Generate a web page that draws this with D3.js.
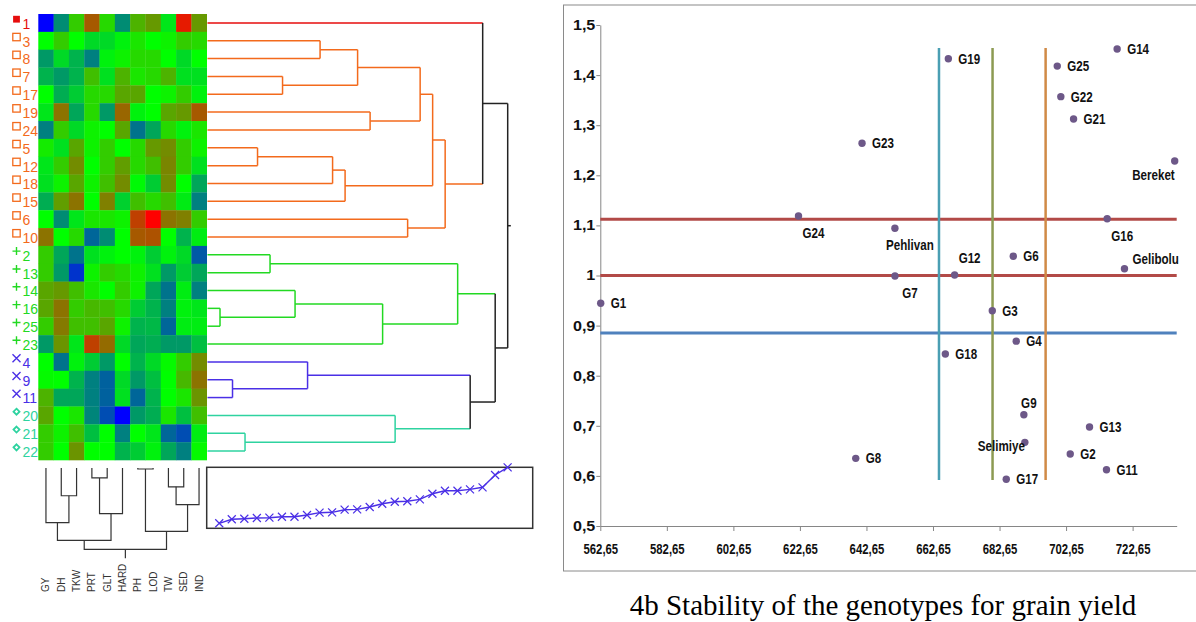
<!DOCTYPE html>
<html>
<head>
<meta charset="utf-8">
<script src="https://cdn.jsdelivr.net/npm/d3@7"></script>
<style>
  html, body { margin: 0; padding: 0; background: #fff; }
  svg { display: block; }
</style>
</head>
<body>
<svg id="fig" width="1196" height="622"></svg>
<script>
// ---- heatmap + clustering data ----
const rowLabels = ['1','3','8','7','17','19','24','5','12','18','15','6','10','2','13','14','16','25','23','4','9','11','20','21','22'];
const rowGroups = ['red','orange','orange','orange','orange','orange','orange','orange','orange','orange','orange','orange','orange',
                   'green','green','green','green','green','green','blue','blue','blue','teal','teal','teal'];
const colLabels = ['GY','DH','TKW','PRT','GLT','HARD','PH','LOD','TW','SED','IND'];

// standardised values, -1 (blue) .. 0 (green) .. 1 (red)
const heatValues = [
  [-1, -0.45, 0.2, 0.65, 0.15, -0.45, 0.3, 0.4, -0.1, 0.9, 0.4],
  [0, 0.2, 0, -0.15, -0.15, -0.05, 0.1, 0, 0.05, 0.2, 0.15],
  [-0.4, -0.15, -0.3, -0.5, -0.05, 0.05, 0.15, 0.15, 0, -0.15, 0],
  [-0.3, -0.4, -0.3, 0.25, -0.12, 0.3, 0.1, 0.15, 0.3, -0.12, -0.12],
  [0, -0.32, -0.2, 0.15, 0.15, 0.35, 0.35, 0, 0.05, 0.2, -0.05],
  [-0.1, 0.55, -0.35, 0.15, -0.4, 0.6, -0.05, 0, 0.35, 0.4, 0.65],
  [-0.5, 0.2, -0.15, 0.05, 0, 0.35, -0.55, -0.35, 0.15, -0.05, 0.1],
  [0.08, -0.12, 0.35, 0.05, 0.2, 0, 0.15, 0.4, 0.45, 0.2, 0.05],
  [-0.1, 0.2, 0.45, 0, 0.2, 0.38, 0.15, 0.25, 0.48, 0.2, -0.12],
  [-0.12, 0.05, 0.35, 0.05, 0.25, 0.45, -0.02, -0.2, 0.45, 0, -0.35],
  [-0.32, 0.38, 0.55, 0, 0.5, -0.18, 0.25, 0.15, 0.25, -0.08, -0.5],
  [0, -0.45, -0.1, 0.1, 0.1, 0.05, 0.75, 1, 0.55, 0.5, 0.2],
  [0.55, 0, 0.15, -0.6, -0.45, 0, 0.65, 0.68, 0, -0.3, -0.07],
  [0.2, -0.35, -0.55, -0.12, -0.05, 0, -0.05, -0.2, -0.05, -0.15, -0.65],
  [0.2, -0.4, -0.8, 0.05, 0.2, 0.15, 0.05, -0.12, -0.4, -0.2, -0.35],
  [0.35, 0.4, 0.25, 0.1, 0, 0.2, 0.05, -0.35, -0.55, -0.07, -0.5],
  [0.35, 0.55, 0.2, 0.28, 0.25, 0.15, -0.2, -0.3, -0.5, -0.05, -0.1],
  [0.2, 0.52, 0.25, 0.25, 0.35, 0.05, -0.3, -0.28, -0.6, -0.07, -0.07],
  [-0.4, 0.42, -0.1, 0.75, 0.58, -0.15, -0.35, -0.32, -0.4, -0.4, -0.25],
  [0, -0.55, -0.05, -0.2, -0.4, 0, -0.3, -0.15, 0.02, 0.2, 0.45],
  [0.02, 0, -0.3, -0.5, -0.62, -0.15, -0.4, -0.25, 0, 0.28, 0.55],
  [0.3, -0.35, -0.35, -0.5, -0.62, -0.12, -0.6, -0.3, 0, 0.1, 0.42],
  [0.35, 0, 0.1, -0.48, -0.7, -1, -0.4, -0.32, 0.1, -0.25, 0.25],
  [0.2, 0.05, 0.25, -0.25, 0, -0.5, 0, -0.1, -0.6, -0.7, -0.07],
  [0.2, 0, 0.42, 0, 0, -0.3, -0.2, -0.05, -0.35, -0.5, 0.02]
];

// row linkage in merge order (mN = result of merge N); drawn by merge rank
const rowMerges = [
  ['16','25'], ['9','11'], ['21','22'], ['5','12'], ['2','13'], ['7','17'],
  ['14','m1'], ['4','m2'], ['3','8'], ['m4','18'], ['m10','15'], ['m9','m6'],
  ['19','24'], ['m7','23'], ['20','m3'], ['6','10'], ['m12','m13'], ['m17','m11'],
  ['m18','m16'], ['m5','m14'], ['m8','m15'], ['1','m19'], ['m20','m21'], ['m22','m23']
];
// sorted linkage distances (inset)
const mergeDistances = [0.82, 1.48, 1.57, 1.69, 1.74, 1.90, 1.90, 2.18, 2.56, 2.62, 3.05, 3.11,
                        3.49, 4.03, 4.36, 4.43, 4.75, 5.67, 6.16, 6.16, 6.39, 6.72, 8.74, 10.0];
// column linkage in merge order (cN)
const colMerges = [
  ['PH','LOD'], ['PRT','GLT'], ['TW','SED'], ['DH','TKW'], ['c3','IND'],
  ['c2','HARD'], ['GY','c4'], ['c1','c5'], ['c7','c6'], ['c9','c8']
];

// ---- stability scatter data ----
const genotypes = ['G1','G8','G24','G23','G19','G14','G25','G22','G21','Bereket','G16','Pehlivan','G6',
                   'G12','G7','Gelibolu','G3','G4','G18','G9','G13','Selimiye','G2','G11','G17'];
const yieldMeans = [562.77, 639.43, 622.22, 641.32, 667.26, 718.0, 700.0, 701.07, 704.9, 735.3, 715.0, 651.2, 686.78,
                    669.15, 651.22, 720.2, 680.47, 687.67, 666.36, 689.96, 709.7, 690.26, 703.9, 714.8, 684.67];
const regCoef = [0.9445, 0.635, 1.1188, 1.2639, 1.4327, 1.452, 1.418, 1.357, 1.3124, 1.2285, 1.1134, 1.0942, 1.0383,
                 1.001, 0.999, 1.0136, 0.9297, 0.869, 0.8433, 0.722, 0.6976, 0.667, 0.6437, 0.6124, 0.5932];
const labelPlaces = ['right','right','below','right','right','right','right','right','right','belowLeft','below','below','right',
                     'above','below','aboveRight','right','right','right','top','right','left','right','right','right'];
const hLineValues = [1.1125, 1.0, 0.885];
const vLineValues = [664.45, 680.55, 696.5];
const vLineSpan = [0.592, 1.454];
const xTickValues = [562.65, 582.65, 602.65, 622.65, 642.65, 662.65, 682.65, 702.65, 722.65];
const yTickValues = [0.5, 0.6, 0.7, 0.8, 0.9, 1, 1.1, 1.2, 1.3, 1.4, 1.5];

// ---------------------------------------------------------------
const svg = d3.select('#fig');
const groupColor = { red: '#e60d0d', orange: '#f36a1c', green: '#22d922', blue: '#4a2fe6', teal: '#2ed3a0', mix: '#222' };

// squeeze text horizontally (the original uses a narrow Calibri-like face)
function squeeze(sel, k) {
  sel.each(function () {
    const w = this.getComputedTextLength();
    d3.select(this).attr('textLength', w * k).attr('lengthAdjust', 'spacingAndGlyphs');
  });
}

// Heatmap
const yRow = d3.scaleBand().domain(rowLabels).range([14, 460]);
const xCol = d3.scaleBand().domain(colLabels).range([38.3, 206.7]);
const heatColor = d3.scaleLinear().domain([-1, 0, 1]).range(['#0000ff', '#00ff00', '#ff0000']);

const heat = svg.append('g').attr('class', 'heatmap');
rowLabels.forEach((r, i) => {
  heat.selectAll(null)
    .data(heatValues[i])
    .enter().append('rect')
    .attr('x', (d, j) => xCol(colLabels[j]))
    .attr('y', yRow(r))
    .attr('width', xCol.bandwidth() + 0.3)
    .attr('height', yRow.bandwidth() + 0.3)
    .attr('fill', d => heatColor(d));
});

// Row labels with group markers
const rowLab = svg.append('g').attr('class', 'row-labels');
rowLabels.forEach((r, i) => {
  const g = rowGroups[i];
  const c = groupColor[g];
  const top = yRow(r);
  const mx = 16.5, my = top + 5.2;
  if (g === 'red') {
    rowLab.append('rect').attr('x', mx - 3.4).attr('y', my - 3.4).attr('width', 6.8).attr('height', 6.8).attr('fill', c);
  } else if (g === 'orange') {
    rowLab.append('rect').attr('x', mx - 3.7).attr('y', my - 3.7).attr('width', 7.4).attr('height', 7.4)
      .attr('fill', 'none').attr('stroke', c).attr('stroke-width', 1.3);
  } else if (g === 'green') {
    rowLab.append('path').attr('d', `M${mx - 4},${my}H${mx + 4}M${mx},${my - 4}V${my + 4}`)
      .attr('stroke', c).attr('stroke-width', 1.4);
  } else if (g === 'blue') {
    rowLab.append('path').attr('d', `M${mx - 4},${my - 4}L${mx + 4},${my + 4}M${mx - 4},${my + 4}L${mx + 4},${my - 4}`)
      .attr('stroke', c).attr('stroke-width', 1.4);
  } else {
    rowLab.append('path').attr('d', `M${mx},${my - 3}L${mx + 3},${my}L${mx},${my + 3}L${mx - 3},${my}Z`)
      .attr('fill', 'none').attr('stroke', c).attr('stroke-width', 1.8);
  }
  rowLab.append('text')
    .attr('x', 22.5).attr('y', top + 14.8)
    .style('font-family', '"Liberation Sans", Arial, sans-serif')
    .style('font-size', '14px')
    .style('fill', c)
    .text(r);
});

// Row dendrogram (ranked merge heights)
const xRank = d3.scaleLinear().domain([0, 24]).range([207.5, 507.7]);
const rowNodes = {};
rowLabels.forEach((r, i) => { rowNodes[r] = { rank: 0, y: yRow(r) + yRow.bandwidth() / 2, group: rowGroups[i] }; });
const dendro = svg.append('g').attr('class', 'row-dendrogram').attr('fill', 'none').attr('stroke-width', 1.5);
rowMerges.forEach((m, i) => {
  const a = rowNodes[m[0]], b = rowNodes[m[1]];
  const node = { rank: i + 1, y: (a.y + b.y) / 2, group: a.group === b.group ? a.group : 'mix' };
  rowNodes['m' + (i + 1)] = node;
  [a, b].forEach(ch => {
    dendro.append('path')
      .attr('d', `M${xRank(ch.rank)},${ch.y}H${xRank(node.rank)}`)
      .attr('stroke', groupColor[ch.group]);
  });
  dendro.append('path')
    .attr('d', `M${xRank(node.rank)},${a.y}V${b.y}`)
    .attr('stroke', groupColor[node.group]);
});
const rowRoot = rowNodes['m24'];
dendro.append('path').attr('d', `M${xRank(24)},${rowRoot.y}H${xRank(24.25)}`).attr('stroke', '#222');

// Column dendrogram
const yColRank = d3.scaleLinear().domain([1, 10]).range([469, 549.3]);
const colNodes = {};
colLabels.forEach(c => { colNodes[c] = { x: xCol(c) + xCol.bandwidth() / 2, y: 468 }; });
const cdend = svg.append('g').attr('class', 'col-dendrogram').attr('fill', 'none').attr('stroke', '#333').attr('stroke-width', 1.2);
colMerges.forEach((m, i) => {
  const a = colNodes[m[0]], b = colNodes[m[1]];
  const yy = yColRank(i + 1);
  const node = { x: (a.x + b.x) / 2, y: yy };
  colNodes['c' + (i + 1)] = node;
  cdend.append('path').attr('d', `M${a.x},${a.y}V${yy}H${b.x}V${b.y}`);
});
cdend.append('path').attr('d', `M${colNodes['c10'].x},${yColRank(10)}V${yColRank(11)}`);

// Column labels
svg.append('g').attr('class', 'col-labels')
  .selectAll('text').data(colLabels).enter().append('text')
  .attr('transform', d => `translate(${xCol(d) + xCol.bandwidth() / 2 + 3.5},592) rotate(-90)`)
  .style('font-family', '"Liberation Sans", Arial, sans-serif')
  .style('font-size', '10px')
  .style('fill', '#333')
  .text(d => d);

// Inset: sorted linkage distances
const xIn = d3.scaleLinear().domain([0, 26]).range([206.7, 532.7]);
const yIn = d3.scaleLinear().domain([0, 10]).range([528.3, 467.3]);
const inset = svg.append('g').attr('class', 'inset');
inset.append('rect')
  .attr('x', xIn(0)).attr('y', yIn(10))
  .attr('width', xIn(26) - xIn(0)).attr('height', yIn(0) - yIn(10))
  .attr('fill', 'none').attr('stroke', '#333').attr('stroke-width', 1.5);
const inPts = mergeDistances.map((d, i) => [xIn(i + 1), yIn(d)]);
inset.append('path').attr('d', d3.line()(inPts))
  .attr('fill', 'none').attr('stroke', '#4a2fe6').attr('stroke-width', 1.4);
inset.selectAll('.xm').data(inPts).enter().append('path')
  .attr('class', 'xm')
  .attr('d', p => `M${p[0] - 4},${p[1] - 4}L${p[0] + 4},${p[1] + 4}M${p[0] - 4},${p[1] + 4}L${p[0] + 4},${p[1] - 4}`)
  .attr('stroke', '#4a2fe6').attr('stroke-width', 1.2);

// ---------------------------------------------------------------
// Stability scatter
const sc = svg.append('g').attr('class', 'stability');
sc.append('rect')
  .attr('x', 563.5).attr('y', 5).attr('width', 640).attr('height', 566)
  .attr('fill', '#fff').attr('stroke', '#8a8a8a').attr('stroke-width', 1);

const xS = d3.scaleLinear().domain([562.65, 735.9]).range([600.3, 1176.7]);
const yS = d3.scaleLinear().domain([0.5, 1.5]).range([526, 25]);
const tickFont = '"Liberation Sans", Arial, sans-serif';

const xAxis = sc.append('g').attr('transform', `translate(0,${yS(0.5)})`)
  .call(d3.axisBottom(xS).tickValues(xTickValues).tickSize(5).tickSizeOuter(0).tickPadding(13)
    .tickFormat(d => d.toFixed(2).replace('.', ',')));
const yAxis = sc.append('g').attr('transform', `translate(${xS(562.65)},0)`)
  .call(d3.axisLeft(yS).tickValues(yTickValues).tickSize(4).tickSizeOuter(0).tickPadding(1)
    .tickFormat(d => String(d).replace('.', ',')));
[xAxis, yAxis].forEach(ax => {
  ax.select('.domain').attr('stroke', '#868686');
  ax.selectAll('.tick line').attr('stroke', '#868686');
  ax.selectAll('.tick text')
    .style('font-family', tickFont).style('font-weight', 'bold')
    .style('font-size', '14px').style('fill', '#111');
});
squeeze(xAxis.selectAll('.tick text'), 0.81);
squeeze(yAxis.selectAll('.tick text'), 1.15);

// reference lines
const hColors = ['#b24a47', '#b24a47', '#4f81bd'];
sc.selectAll('.hline').data(hLineValues).enter().append('line')
  .attr('class', 'hline')
  .attr('x1', xS(562.65)).attr('x2', xS(735.9))
  .attr('y1', d => yS(d)).attr('y2', d => yS(d))
  .attr('stroke', (d, i) => hColors[i]).attr('stroke-width', 3);
const vColors = ['#4a9fb3', '#8c9a52', '#d08a46'];
sc.selectAll('.vline').data(vLineValues).enter().append('line')
  .attr('class', 'vline')
  .attr('x1', d => xS(d)).attr('x2', d => xS(d))
  .attr('y1', yS(vLineSpan[1])).attr('y2', yS(vLineSpan[0]))
  .attr('stroke', (d, i) => vColors[i]).attr('stroke-width', 2.5);

// points
sc.selectAll('.pt').data(genotypes).enter().append('circle')
  .attr('class', 'pt')
  .attr('cx', (d, i) => xS(yieldMeans[i]))
  .attr('cy', (d, i) => yS(regCoef[i]))
  .attr('r', 3.7)
  .attr('fill', '#6d5888');

const placeOffset = {
  right:      [10, 5, 'start'],
  below:      [15, 22, 'middle'],
  above:      [15, -12, 'middle'],
  top:        [5, -7, 'middle'],
  belowLeft:  [0, 19, 'end'],
  left:       [0, 9, 'end'],
  aboveRight: [8, -5, 'start']
};
const plabels = sc.selectAll('.plabel').data(genotypes).enter().append('text')
  .attr('class', 'plabel')
  .attr('x', (d, i) => xS(yieldMeans[i]) + placeOffset[labelPlaces[i]][0])
  .attr('y', (d, i) => yS(regCoef[i]) + placeOffset[labelPlaces[i]][1])
  .attr('text-anchor', (d, i) => placeOffset[labelPlaces[i]][2])
  .style('font-family', tickFont).style('font-weight', 'bold')
  .style('font-size', '14.5px').style('fill', '#111')
  .text(d => d);
squeeze(plabels, 0.8);

// caption
svg.append('text')
  .attr('x', 883).attr('y', 615)
  .attr('text-anchor', 'middle')
  .style('font-family', '"Liberation Serif", "Times New Roman", serif')
  .style('font-size', '29px')
  .style('fill', '#000')
  .text('4b Stability of the genotypes for grain yield');
</script>
</body>
</html>
